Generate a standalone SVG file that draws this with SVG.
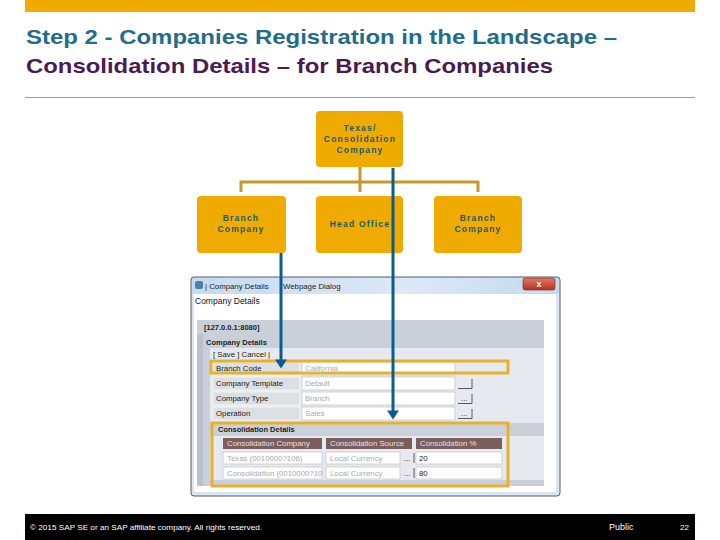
<svg xmlns="http://www.w3.org/2000/svg" width="720" height="540" viewBox="0 0 720 540">
<defs>
<style>
.node{fill:#f0ab00}
.nt{font-family:"Liberation Sans",Arial,sans-serif;font-size:8.5px;font-weight:bold;fill:#1d5a6c;letter-spacing:1.2px;text-anchor:middle}
.conn{stroke:#c49a2c;stroke-width:3;fill:none}
.arrow{stroke:#0b5e8c;stroke-width:3;fill:none}
.dt{font-family:"Liberation Sans",Arial,sans-serif;font-size:7.8px;fill:#222}
.db{font-family:"Liberation Sans",Arial,sans-serif;font-size:7.5px;font-weight:bold;fill:#222}
.lab{fill:#dcdfe3;stroke:#f4f4f4;stroke-width:1}
.val{fill:#fff;stroke:#c8c8c8;stroke-width:0.8}
.vt{font-family:"Liberation Sans",Arial,sans-serif;font-size:7.8px;fill:#aaa}
.hd{fill:#7b5d5d}
.ht{font-family:"Liberation Sans",Arial,sans-serif;font-size:7.8px;fill:#e8e0e0}
.hl{fill:none;stroke:#e6b22e;stroke-width:3}
.title{font-family:"Liberation Sans",Arial,sans-serif;font-size:21px;font-weight:bold}
</style>
<linearGradient id="tb" x1="0" y1="0" x2="1" y2="0">
<stop offset="0" stop-color="#c6daf0"/><stop offset="0.6" stop-color="#dbe9f7"/><stop offset="1" stop-color="#c4d8ee"/>
</linearGradient>
<linearGradient id="cb" x1="0" y1="0" x2="0" y2="1">
<stop offset="0" stop-color="#e07a66"/><stop offset="1" stop-color="#b8301e"/>
</linearGradient>
<marker id="ah" markerWidth="4" markerHeight="4" refX="2.2" refY="2" orient="auto" markerUnits="strokeWidth">
<path d="M0,0 L3,2 L0,4 Z" fill="#0b5e8c"/>
</marker>
</defs>
<rect width="720" height="540" fill="#fff"/>
<rect x="25" y="0" width="670" height="12" fill="#f0ab00"/>
<text class="title" x="26" y="44" fill="#1f6d8a" textLength="591" lengthAdjust="spacingAndGlyphs">Step 2 - Companies Registration in the Landscape –</text>
<text class="title" x="26" y="73" fill="#4b1a55" textLength="527" lengthAdjust="spacingAndGlyphs">Consolidation Details – for Branch Companies</text>
<line x1="25" y1="97.5" x2="695" y2="97.5" stroke="#999" stroke-width="1"/>

<g id="connectors">
<path class="conn" d="M360,167 V192 M241,192 V182 H478 V192"/>
</g>

<g id="node-texas">
<rect class="node" x="316" y="111" width="87" height="56" rx="4"/>
<text class="nt" x="360" y="131">Texas/</text>
<text class="nt" x="360" y="142">Consolidation</text>
<text class="nt" x="360" y="153">Company</text>
</g>
<g id="node-branch-left">
<rect class="node" x="197" y="196" width="89" height="57" rx="4"/>
<text class="nt" x="241" y="221">Branch</text>
<text class="nt" x="241" y="232">Company</text>
</g>
<g id="node-head-office">
<rect class="node" x="316" y="196" width="87" height="57" rx="4"/>
<text class="nt" x="360" y="227">Head Office</text>
</g>
<g id="node-branch-right">
<rect class="node" x="434" y="196" width="88" height="57" rx="4"/>
<text class="nt" x="478" y="221">Branch</text>
<text class="nt" x="478" y="232">Company</text>
</g>

<g id="dialog">
<rect x="191" y="277" width="369" height="219" rx="3" fill="#dce6f0" stroke="#4f5d6b" stroke-width="1"/>
<rect x="192" y="278" width="367" height="16" fill="url(#tb)"/>
<rect x="195" y="281" width="8" height="8" rx="2" fill="#4f7fa8"/>
<text class="dt" x="205" y="289">| Company Details</text>
<text class="dt" x="283" y="289">Webpage Dialog</text>
<rect x="523" y="278" width="32" height="12" rx="2" fill="url(#cb)" stroke="#7a2a20" stroke-width="0.6"/>
<text x="539" y="287" font-family="Liberation Sans,Arial,sans-serif" font-size="9px" font-weight="bold" fill="#fff" text-anchor="middle">x</text>
<rect x="194" y="294" width="362" height="198" fill="#fff"/>
<text x="195" y="304" font-family="Liberation Sans,Arial,sans-serif" font-size="8.5px" fill="#111">Company Details</text>
<rect x="197" y="320" width="347" height="166" fill="#c9d0d9"/>
<rect x="197" y="334" width="6" height="152" fill="#b9c1cc"/>
<text class="db" x="204" y="330">[127.0.0.1:8080]</text>
<text class="db" x="206" y="345">Company Details</text>
<rect x="210" y="348" width="334" height="132" fill="#e6eaf0"/>
<text class="dt" x="213" y="357">[ Save ] Cancel |</text>
<rect class="lab" x="213" y="362" width="87" height="13"/>
<rect class="val" x="302" y="362" width="153" height="13"/>
<text class="dt" x="216" y="371">Branch Code</text>
<text class="vt" x="305" y="371">California</text>
<rect class="lab" x="213" y="377" width="87" height="13"/>
<rect class="val" x="302" y="377" width="153" height="13"/>
<text class="dt" x="216" y="386">Company Template</text>
<text class="vt" x="305" y="386">Default</text>
<rect class="lab" x="213" y="392" width="87" height="13"/>
<rect class="val" x="302" y="392" width="153" height="13"/>
<text class="dt" x="216" y="401">Company Type</text>
<text class="vt" x="305" y="401">Branch</text>
<rect class="lab" x="213" y="407" width="87" height="13"/>
<rect class="val" x="302" y="407" width="153" height="13"/>
<text class="dt" x="216" y="416">Operation</text>
<text class="vt" x="305" y="416">Sales</text>
<g fill="none" stroke="#333" stroke-width="0.8">
<path d="M458,388.5 H472 V379"/>
<path d="M458,403.5 H472 V394"/>
<path d="M458,418.5 H472 V409"/>
</g>
<text class="dt" x="461" y="401" font-size="6px">...</text>
<text class="dt" x="461" y="416" font-size="6px">...</text>
<rect x="210" y="423" width="334" height="13" fill="#c9d0d9"/>
<text class="db" x="218" y="432">Consolidation Details</text>
<rect class="hd" x="223" y="438" width="99" height="11"/>
<rect class="hd" x="326" y="438" width="86" height="11"/>
<rect class="hd" x="416" y="438" width="86" height="11"/>
<text class="ht" x="227" y="446">Consolidation Company</text>
<text class="ht" x="330" y="446">Consolidation Source</text>
<text class="ht" x="420" y="446">Consolidation %</text>
<rect class="val" x="223" y="452" width="99" height="12"/>
<rect class="val" x="326" y="452" width="74" height="12"/>
<rect class="val" x="416" y="452" width="86" height="12"/>
<text class="vt" x="227" y="461">Texas (0010000?106)</text>
<text class="vt" x="330" y="461">Local Currency</text>
<text class="dt" x="404" y="461">...</text>
<path d="M414,453 V463" stroke="#333" stroke-width="0.8"/>
<text class="dt" x="419" y="461">20</text>
<rect class="val" x="223" y="467" width="99" height="12"/>
<rect class="val" x="326" y="467" width="74" height="12"/>
<rect class="val" x="416" y="467" width="86" height="12"/>
<text class="vt" x="227" y="476">Consolidation (0010000?10</text>
<text class="vt" x="330" y="476">Local Currency</text>
<text class="dt" x="404" y="476">...</text>
<path d="M414,468 V478" stroke="#333" stroke-width="0.8"/>
<text class="dt" x="419" y="476">80</text>
<rect class="hl" x="211" y="361" width="297" height="12"/>
<rect class="hl" x="212" y="423" width="296" height="63"/>
</g>

<g id="arrows">
<line class="arrow" x1="281" y1="253" x2="281" y2="366" marker-end="url(#ah)"/>
<line class="arrow" x1="393" y1="168" x2="393" y2="417" marker-end="url(#ah)"/>
</g>

<rect x="25" y="514" width="670" height="26" fill="#000"/>
<text x="30" y="530" font-family="Liberation Sans,Arial,sans-serif" font-size="7.5px" fill="#fff" textLength="232" lengthAdjust="spacingAndGlyphs">© 2015 SAP SE or an SAP affiliate company. All rights reserved.</text>
<text x="609" y="530" font-family="Liberation Sans,Arial,sans-serif" font-size="9px" fill="#fff">Public</text>
<text x="680" y="530" font-family="Liberation Sans,Arial,sans-serif" font-size="8px" fill="#fff">22</text>
</svg>
